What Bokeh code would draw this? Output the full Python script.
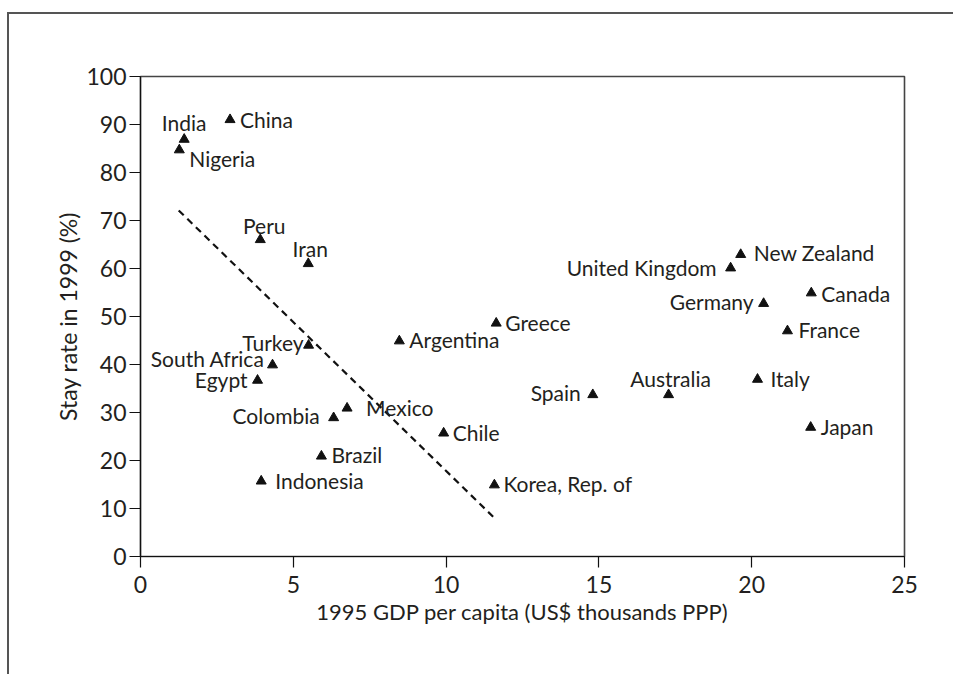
from bokeh.plotting import figure
from bokeh.models import ColumnDataSource, FixedTicker
from bokeh.core.properties import value
from bokeh.embed import file_html
from bokeh.resources import INLINE

# ---- data ----
countries = ["India", "Nigeria", "China", "Peru", "Iran", "Turkey", "South Africa",
             "Egypt", "Colombia", "Mexico", "Brazil", "Indonesia", "Argentina",
             "Greece", "Chile", "Korea, Rep. of", "Spain", "Australia", "Italy",
             "Japan", "France", "Germany", "New Zealand", "United Kingdom", "Canada"]
gdp = [1.43, 1.27, 2.93, 3.92, 5.49, 5.50, 4.32,
       3.83, 6.32, 6.76, 5.92, 3.95, 8.47,
       11.64, 9.92, 11.58, 14.80, 17.28, 20.19,
       21.93, 21.17, 20.39, 19.64, 19.31, 21.95]
stay = [86.9, 84.7, 91.0, 66.0, 61.0, 44.0, 39.9,
        36.7, 28.9, 30.9, 20.9, 15.7, 44.9,
        48.6, 25.7, 14.9, 33.7, 33.7, 36.9,
        26.9, 47.0, 52.7, 62.9, 60.1, 54.9]
trend_x = [1.25, 11.6]
trend_y = [72.1, 7.9]
x_ticks = [0, 5, 10, 15, 20, 25]
y_ticks = [0, 10, 20, 30, 40, 50, 60, 70, 80, 90, 100]

# ---- label layout (pixel offsets, alignment) ----
label_layout = {
    "India": ("center", 0, -17), "Nigeria": ("left", 10, 9), "China": ("left", 10, 0),
    "Peru": ("center", 4, -14), "Iran": ("center", 2, -15), "Turkey": ("right", -5, -3),
    "South Africa": ("right", -8, -6), "Egypt": ("right", -10, -1),
    "Colombia": ("right", -14, -2), "Mexico": ("left", 19, -1), "Brazil": ("left", 10, -2),
    "Indonesia": ("left", 14, -1), "Argentina": ("left", 10, -1), "Greece": ("left", 9, -1),
    "Chile": ("left", 9, -1), "Korea, Rep. of": ("left", 9, -1), "Spain": ("right", -12, -2),
    "Australia": ("center", 2, -16), "Italy": ("left", 13, -1), "Japan": ("left", 10, -1),
    "France": ("left", 11, -1), "Germany": ("right", -10, -2), "New Zealand": ("left", 13, -2),
    "United Kingdom": ("right", -14, -1), "Canada": ("left", 10, 1),
}

FONT = "Lato"
TXT = "#231f20"

p = figure(frame_width=764, frame_height=480,
           min_border_left=131, min_border_top=62, min_border_right=49, min_border_bottom=118,
           x_range=(0, 25), y_range=(0, 100),
           output_backend="svg", toolbar_location=None)

p.styles = {"border-top": "2px solid #555555", "border-left": "2px solid #555555",
            "margin-top": "12px", "margin-left": "7px"}

p.xgrid.visible = False
p.ygrid.visible = False
p.outline_line_color = "#444444"
p.outline_line_width = 1.6
p.background_fill_color = "white"
p.border_fill_color = "white"

for ax in (p.xaxis[0], p.yaxis[0]):
    ax.axis_line_color = "#111111"
    ax.axis_line_width = 1.2
    ax.major_tick_line_color = "#111111"
    ax.major_tick_line_width = 1.2
    ax.major_tick_out = 11
    ax.major_tick_in = 0
    ax.minor_tick_line_color = None
    ax.major_label_text_font = FONT
    ax.major_label_text_font_size = "23px"
    ax.major_label_text_color = TXT
    ax.axis_label_text_font = FONT
    ax.axis_label_text_font_style = "normal"
    ax.axis_label_text_color = TXT

p.xaxis.axis_label_text_font_size = "22px"
p.yaxis.axis_label_text_font_size = "23px"
p.xaxis.ticker = FixedTicker(ticks=x_ticks)
p.yaxis.ticker = FixedTicker(ticks=y_ticks)
p.xaxis.axis_label = "1995 GDP per capita (US$ thousands PPP)"
p.yaxis.axis_label = "Stay rate in 1999 (%)"
p.xaxis.major_label_standoff = 8
p.yaxis.major_label_standoff = 3
p.xaxis.axis_label_standoff = 2
p.yaxis.axis_label_standoff = 1

# trend line
p.line(trend_x, trend_y, line_color="#111111", line_width=2.2, line_dash="7 5")

# points
src = ColumnDataSource(dict(x=gdp, y=stay, name=countries))
p.scatter("x", "y", source=src, marker="triangle", size=10,
          fill_color="#111111", line_color="#111111")

for align in ("left", "right", "center"):
    xs, ys, ts, xo, yo = [], [], [], [], []
    for c, gx, sy in zip(countries, gdp, stay):
        a, dx, dy = label_layout[c]
        if a == align:
            xs.append(gx); ys.append(sy); ts.append(c); xo.append(dx); yo.append(dy)
    s = ColumnDataSource(dict(x=xs, y=ys, t=ts, xo=xo, yo=yo))
    p.text("x", "y", text="t", source=s, x_offset="xo", y_offset="yo",
           text_align=align, text_baseline="middle",
           text_font=value(FONT), text_font_size="21px", text_color=TXT)

open("out.html", "w").write(file_html(p, INLINE))
